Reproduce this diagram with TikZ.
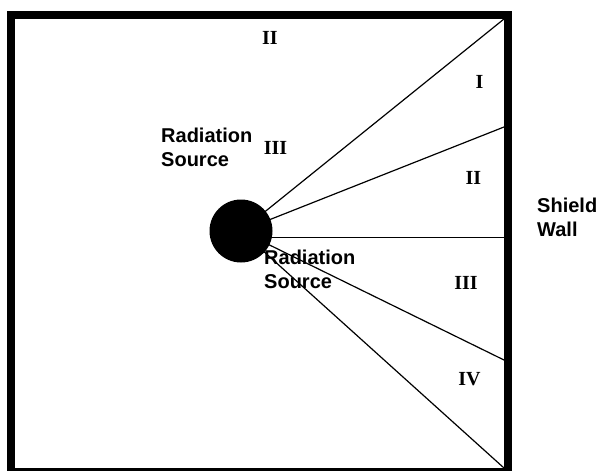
\documentclass[tikz,border=0pt]{standalone}
\usepackage{fontspec}
\setmainfont{Liberation Serif}
\setsansfont{Liberation Sans}
\tikzset{
  wallln/.style={line width=8pt},
  rayln/.style={line width=1.2pt},
  srcdot/.style={circle,fill=black,minimum size=63pt,inner sep=0pt},
  zonelbl/.style={font=\fontsize{20}{24}\selectfont\rmfamily\bfseries,inner sep=0pt},
  txtlbl/.style={font=\fontsize{20}{24}\selectfont\sffamily\bfseries,align=left,anchor=west,inner sep=0pt}
}
\begin{document}
\begin{tikzpicture}[x=1pt,y=-1pt]
  \useasboundingbox (0,0) rectangle (598,471);
  % room and shield wall
  \draw[wallln] (11,15) rectangle (508,472);
  \coordinate (c) at (241,231);
  \coordinate (w1) at (504,19);
  \coordinate (w2) at (504,127);
  \coordinate (w3) at (504,237.5);
  \coordinate (w4) at (504,360);
  \coordinate (w5) at (504,468);

  % rays to the wall
  \draw[rayln] (c) -- (w1);
  \draw[rayln] (c) -- (w2);
  \draw[rayln] (c |- w3) -- (w3);
  \draw[rayln] (c) -- (w4);
  \draw[rayln] (c) -- (w5);
  \node[srcdot] (src) at (c) {};

  % zones
  \node[zonelbl] (zIIa) at (270,38) {II};
  \node[zonelbl] (zI) at (479.5,82) {I};
  \node[zonelbl] (zIIIa) at (275.5,148) {III};
  \node[zonelbl] (zIIb) at (473.5,178) {II};
  \node[zonelbl] (zIIIb) at (466,283) {III};
  \node[zonelbl] (zIV) at (469.5,379) {IV};

  % text labels
  \node[txtlbl] (srclbla) at (161,147) {Radiation\\Source};
  \node[txtlbl] (srclblb) at (264,269) {Radiation\\Source};
  \node[txtlbl] (wall) at (537,217) {Shield\\Wall};
\end{tikzpicture}
\end{document}
